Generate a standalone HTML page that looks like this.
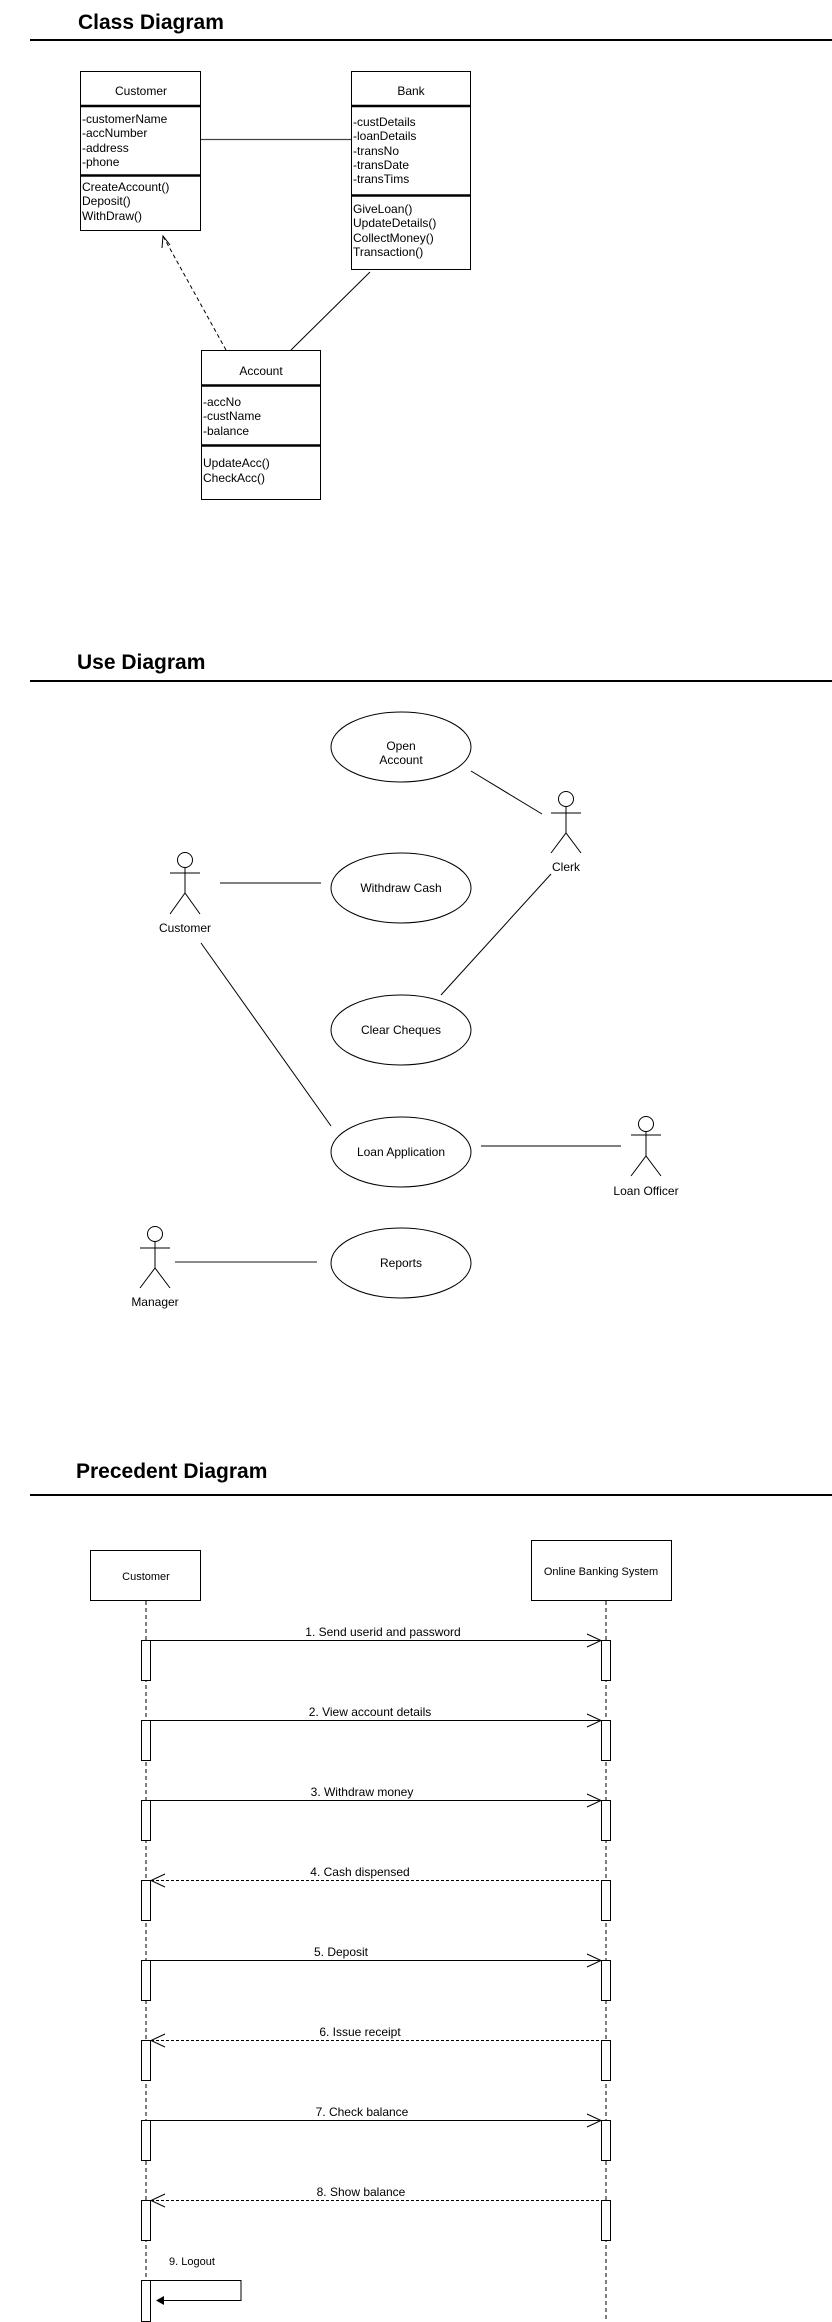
<!DOCTYPE html>
<html><head><meta charset="utf-8"><style>
html,body{margin:0;padding:0;background:#fff;}
svg{display:block;}
text{font-family:"Liberation Sans",Arial,sans-serif;fill:#000;}
.t{font-size:21px;font-weight:bold;}
.s{font-size:12px;}
.l{stroke:#000;stroke-width:1;fill:none;}
</style></head><body>
<svg width="832" height="2322" viewBox="0 0 832 2322" xmlns="http://www.w3.org/2000/svg">
<!-- Class Diagram -->
<text class="t" x="78" y="29">Class Diagram</text>
<line x1="30" y1="40" x2="832" y2="40" stroke="#000" stroke-width="2"/>

<rect x="80.5" y="71.5" width="120" height="159" class="l"/>
<line x1="80" y1="106" x2="201" y2="106" stroke="#000" stroke-width="2.5"/>
<line x1="80" y1="175.5" x2="201" y2="175.5" stroke="#000" stroke-width="2.5"/>
<text class="s" x="141" y="95" text-anchor="middle">Customer</text>
<text class="s" x="82" y="123">-customerName</text>
<text class="s" x="82" y="137">-accNumber</text>
<text class="s" x="82" y="152">-address</text>
<text class="s" x="82" y="166">-phone</text>
<text class="s" x="82" y="191">CreateAccount()</text>
<text class="s" x="82" y="205">Deposit()</text>
<text class="s" x="82" y="220">WithDraw()</text>

<rect x="351.5" y="71.5" width="119" height="198" class="l"/>
<line x1="351" y1="106" x2="471" y2="106" stroke="#000" stroke-width="2.5"/>
<line x1="351" y1="195.5" x2="471" y2="195.5" stroke="#000" stroke-width="2.5"/>
<text class="s" x="411" y="95" text-anchor="middle">Bank</text>
<text class="s" x="353" y="126">-custDetails</text>
<text class="s" x="353" y="140">-loanDetails</text>
<text class="s" x="353" y="155">-transNo</text>
<text class="s" x="353" y="169">-transDate</text>
<text class="s" x="353" y="183">-transTims</text>
<text class="s" x="353" y="213">GiveLoan()</text>
<text class="s" x="353" y="227">UpdateDetails()</text>
<text class="s" x="353" y="242">CollectMoney()</text>
<text class="s" x="353" y="256">Transaction()</text>

<rect x="201.5" y="350.5" width="119" height="149" class="l"/>
<line x1="201" y1="385.5" x2="321" y2="385.5" stroke="#000" stroke-width="2.5"/>
<line x1="201" y1="445.5" x2="321" y2="445.5" stroke="#000" stroke-width="2.5"/>
<text class="s" x="261" y="375" text-anchor="middle">Account</text>
<text class="s" x="203" y="406">-accNo</text>
<text class="s" x="203" y="420">-custName</text>
<text class="s" x="203" y="435">-balance</text>
<text class="s" x="203" y="467">UpdateAcc()</text>
<text class="s" x="203" y="482">CheckAcc()</text>

<line x1="201" y1="139.5" x2="351" y2="139.5" stroke="#444" stroke-width="1.3"/>
<line x1="370" y1="272" x2="291" y2="350" class="l"/>
<line x1="226" y1="350" x2="163" y2="236" class="l" stroke-dasharray="4,3"/>
<polyline points="162,248 163,236 170,245" class="l"/>

<!-- Use Diagram -->
<text class="t" x="77" y="669">Use Diagram</text>
<line x1="30" y1="681" x2="832" y2="681" stroke="#000" stroke-width="2"/>

<g class="l">
<ellipse cx="401" cy="747" rx="70" ry="35"/>
<ellipse cx="401" cy="888" rx="70" ry="35"/>
<ellipse cx="401" cy="1030" rx="70" ry="35"/>
<ellipse cx="401" cy="1152" rx="70" ry="35"/>
<ellipse cx="401" cy="1263" rx="70" ry="35"/>
</g>
<text class="s" x="401" y="750" text-anchor="middle">Open</text>
<text class="s" x="401" y="764" text-anchor="middle">Account</text>
<text class="s" x="401" y="892" text-anchor="middle">Withdraw Cash</text>
<text class="s" x="401" y="1034" text-anchor="middle">Clear Cheques</text>
<text class="s" x="401" y="1156" text-anchor="middle">Loan Application</text>
<text class="s" x="401" y="1267" text-anchor="middle">Reports</text>

<!-- actors -->
<g class="l">
<circle cx="566" cy="799" r="7.5"/><line x1="566" y1="806.5" x2="566" y2="833"/><line x1="551" y1="813" x2="581" y2="813"/><polyline points="551,853 566,833 581,853"/>
<circle cx="185" cy="860" r="7.5"/><line x1="185" y1="867.5" x2="185" y2="893"/><line x1="170" y1="873" x2="200" y2="873"/><polyline points="170,914 185,893 200,914"/>
<circle cx="646" cy="1124" r="7.5"/><line x1="646" y1="1131.5" x2="646" y2="1156"/><line x1="631" y1="1135" x2="661" y2="1135"/><polyline points="631,1176 646,1156 661,1176"/>
<circle cx="155" cy="1234" r="7.5"/><line x1="155" y1="1241.5" x2="155" y2="1268"/><line x1="140" y1="1248" x2="170" y2="1248"/><polyline points="140,1288 155,1268 170,1288"/>
</g>
<text class="s" x="566" y="871" text-anchor="middle">Clerk</text>
<text class="s" x="185" y="932" text-anchor="middle">Customer</text>
<text class="s" x="646" y="1195" text-anchor="middle">Loan Officer</text>
<text class="s" x="155" y="1306" text-anchor="middle">Manager</text>

<g class="l">
<line x1="471" y1="771" x2="542" y2="814"/>
<line x1="220" y1="883" x2="321" y2="883"/>
<line x1="551" y1="874" x2="441" y2="995"/>
<line x1="201" y1="943" x2="331" y2="1126"/>
<line x1="481" y1="1146" x2="621" y2="1146"/>
</g>
<line x1="175" y1="1262" x2="317" y2="1262" stroke="#666" stroke-width="1.5"/>

<!-- Sequence -->
<text class="t" x="76" y="1478">Precedent Diagram</text>
<line x1="30" y1="1495" x2="832" y2="1495" stroke="#000" stroke-width="2"/>

<rect x="90.5" y="1550.5" width="110" height="50" class="l"/>
<text class="s" x="146" y="1580" text-anchor="middle" style="font-size:11px">Customer</text>
<rect x="531.5" y="1540.5" width="140" height="60" class="l"/>
<text class="s" x="601" y="1575" text-anchor="middle" style="font-size:11px">Online Banking System</text>

<line x1="146" y1="1601" x2="146" y2="2322" class="l" stroke-dasharray="4,3"/>
<line x1="606" y1="1601" x2="606" y2="2322" class="l" stroke-dasharray="4,3"/>

<g class="l" fill="#fff">
<rect x="141.5" y="1640.5" width="9" height="40" fill="#fff"/><rect x="601.5" y="1640.5" width="9" height="40" fill="#fff"/>
<rect x="141.5" y="1720.5" width="9" height="40" fill="#fff"/><rect x="601.5" y="1720.5" width="9" height="40" fill="#fff"/>
<rect x="141.5" y="1800.5" width="9" height="40" fill="#fff"/><rect x="601.5" y="1800.5" width="9" height="40" fill="#fff"/>
<rect x="141.5" y="1880.5" width="9" height="40" fill="#fff"/><rect x="601.5" y="1880.5" width="9" height="40" fill="#fff"/>
<rect x="141.5" y="1960.5" width="9" height="40" fill="#fff"/><rect x="601.5" y="1960.5" width="9" height="40" fill="#fff"/>
<rect x="141.5" y="2040.5" width="9" height="40" fill="#fff"/><rect x="601.5" y="2040.5" width="9" height="40" fill="#fff"/>
<rect x="141.5" y="2120.5" width="9" height="40" fill="#fff"/><rect x="601.5" y="2120.5" width="9" height="40" fill="#fff"/>
<rect x="141.5" y="2200.5" width="9" height="40" fill="#fff"/><rect x="601.5" y="2200.5" width="9" height="40" fill="#fff"/>
<rect x="141.5" y="2280.5" width="9" height="41" fill="#fff"/>
</g>

<g class="l">
<line x1="151" y1="1640.5" x2="601" y2="1640.5"/><polyline points="587,1634 601,1640.5 587,1647"/>
<line x1="151" y1="1720.5" x2="601" y2="1720.5"/><polyline points="587,1714 601,1720.5 587,1727"/>
<line x1="151" y1="1800.5" x2="601" y2="1800.5"/><polyline points="587,1794 601,1800.5 587,1807"/>
<line x1="151" y1="1880.5" x2="606" y2="1880.5" stroke-dasharray="3,2"/><polyline points="165,1874 151,1880.5 165,1887"/>
<line x1="151" y1="1960.5" x2="601" y2="1960.5"/><polyline points="587,1954 601,1960.5 587,1967"/>
<line x1="151" y1="2040.5" x2="606" y2="2040.5" stroke-dasharray="3,2"/><polyline points="165,2034 151,2040.5 165,2047"/>
<line x1="151" y1="2120.5" x2="601" y2="2120.5"/><polyline points="587,2114 601,2120.5 587,2127"/>
<line x1="151" y1="2200.5" x2="606" y2="2200.5" stroke-dasharray="3,2"/><polyline points="165,2194 151,2200.5 165,2207"/>
<polyline points="151,2280.5 241,2280.5 241,2300.5 160,2300.5"/>
</g>
<polygon points="156,2300.5 164,2296 164,2305" fill="#000"/>

<g class="s" text-anchor="middle">
<text x="383" y="1636">1. Send userid and password</text>
<text x="370" y="1716">2. View account details</text>
<text x="362" y="1796">3. Withdraw money</text>
<text x="360" y="1876">4. Cash dispensed</text>
<text x="341" y="1956">5. Deposit</text>
<text x="360" y="2036">6. Issue receipt</text>
<text x="362" y="2116">7. Check balance</text>
<text x="361" y="2196">8. Show balance</text>
</g>
<text class="s" x="169" y="2265" style="font-size:11px">9. Logout</text>
</svg>
</body></html>
